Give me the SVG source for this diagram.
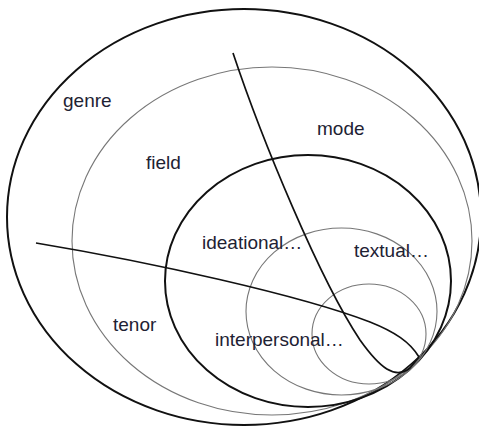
<svg xmlns="http://www.w3.org/2000/svg" width="479" height="428" viewBox="0 0 479 428">
<style>
.thick{fill:none;stroke:#111;stroke-width:2}
.thin{fill:none;stroke:#777;stroke-width:1.1}
.line{fill:none;stroke:#111;stroke-width:1.7}
text{font-family:"Liberation Sans",Arial,sans-serif;font-size:19px;fill:#1e2233}
</style>
<rect width="479" height="428" fill="#fff"/>
<g id="genre"><ellipse class="thick" cx="244" cy="217" rx="237" ry="208"/><text x="63" y="107">genre</text></g>
<g id="field"><ellipse class="thin" cx="272" cy="241" rx="200" ry="174"/><text x="146" y="169">field</text></g>
<g id="register"><ellipse class="thick" cx="308" cy="281" rx="143" ry="126"/></g>
<g id="ideational"><ellipse class="thin" cx="341.5" cy="311.5" rx="95.5" ry="83.5"/><text x="202" y="249">ideational…</text></g>
<g id="inner"><ellipse class="thin" cx="369" cy="334" rx="57" ry="50"/></g>
<g id="connectors">
<path class="line" d="M233,53 C262,140 320,280 360,340 C380,368 395,380 410,368 L419,357"/>
<path class="line" d="M36,243 C150,262 300,295 370,322 C395,332 410,342 419,357"/>
</g>
<g id="mode"><text x="317" y="135">mode</text></g>
<g id="textual"><text x="354" y="257">textual…</text></g>
<g id="tenor"><text x="113" y="331">tenor</text></g>
<g id="interpersonal"><text x="215" y="346">interpersonal…</text></g>
</svg>
